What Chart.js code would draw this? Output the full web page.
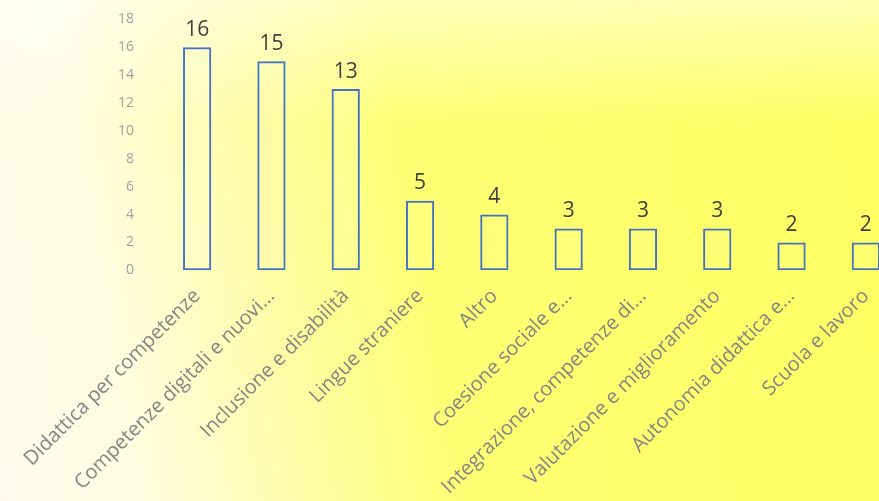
<!DOCTYPE html>
<html>
<head>
<meta charset="utf-8">
<script src="https://cdn.jsdelivr.net/npm/chart.js@4"></script>
<style>
  html, body {
    margin: 0;
    padding: 0;
    width: 879px;
    height: 501px;
    overflow: hidden;
  }
  body {
    position: relative;
    background:
      linear-gradient(to bottom, rgba(255, 255, 255, 0.5) 0%, rgba(255, 255, 255, 0) 25%),
      linear-gradient(80deg, #fcfbea 0%, #fefde0 15%, #fdfca2 33%, #ffff74 48%, #ffff62 100%);
  }
  .chartWrapper {
    position: absolute;
    left: 0;
    top: -7px;
    width: 912px;
    height: 512px;
  }
</style>
</head>
<body>
<div class="chartWrapper">
  <canvas id="chart"></canvas>
</div>
<script>
const categories = [
  'Didattica per competenze',
  'Competenze digitali e nuovi…',
  'Inclusione e disabilità',
  'Lingue straniere',
  'Altro',
  'Coesione sociale e…',
  'Integrazione, competenze di…',
  'Valutazione e miglioramento',
  'Autonomia didattica e…',
  'Scuola e lavoro'
];
const counts = [16, 15, 13, 5, 4, 3, 3, 3, 2, 2];
const yTicks = [0, 2, 4, 6, 8, 10, 12, 14, 16, 18];

const FONT = "'Open Sans', 'Liberation Sans', sans-serif";

// simple value labels above each bar
const valueLabels = {
  id: 'valueLabels',
  afterDatasetsDraw(chart) {
    const ctx = chart.ctx;
    const meta = chart.getDatasetMeta(0);
    ctx.save();
    ctx.font = '21px ' + FONT;
    ctx.fillStyle = '#404040';
    ctx.textAlign = 'center';
    ctx.textBaseline = 'bottom';
    meta.data.forEach((bar, i) => {
      ctx.fillText(String(counts[i]), bar.x, bar.y - 7);
    });
    ctx.restore();
  }
};

const ctx = document.getElementById('chart').getContext('2d');
new Chart(ctx, {
  type: 'bar',
  data: {
    labels: categories,
    datasets: [{
      data: counts,
      backgroundColor: 'rgba(255, 255, 255, 0.08)',
      borderColor: '#4472c4',
      borderWidth: 2,
      borderSkipped: false,
      barPercentage: 0.38,
      categoryPercentage: 1
    }]
  },
  options: {
    responsive: true,
    maintainAspectRatio: false,
    animation: false,
    layout: {
      padding: { top: 7, right: 9, bottom: 0, left: 0 }
    },
    plugins: {
      legend: { display: false },
      tooltip: { enabled: false }
    },
    scales: {
      x: {
        grid: { display: false },
        border: { display: false },
        ticks: {
          color: '#858585',
          font: { family: FONT, size: 20 },
          minRotation: 45,
          maxRotation: 45,
          autoSkip: false,
          padding: 6
        }
      },
      y: {
        min: 0,
        max: 18,
        afterBuildTicks: (axis) => {
          axis.ticks = yTicks.map(v => ({ value: v }));
        },
        afterFit: (axis) => {
          axis.width = 160;
        },
        grid: { display: false },
        border: { display: false },
        ticks: {
          color: '#a0a0a0',
          font: { family: FONT, size: 14 },
          padding: 18
        }
      }
    }
  },
  plugins: [valueLabels]
});
</script>
</body>
</html>
